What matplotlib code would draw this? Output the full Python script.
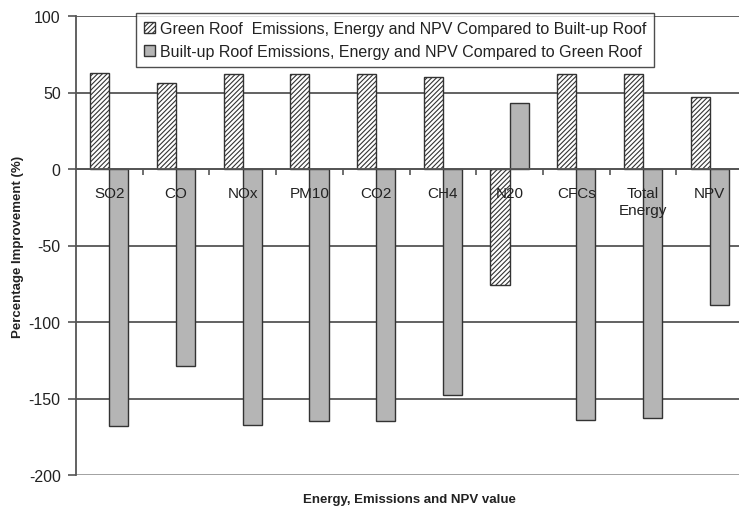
import matplotlib

matplotlib.use("Agg")

import matplotlib.pyplot as plt
import numpy as np

plt.rcParams["font.family"] = ["Liberation Sans", "DejaVu Sans"]
plt.rcParams["axes.unicode_minus"] = False
plt.rcParams["hatch.linewidth"] = 0.8
plt.rcParams["hatch.color"] = "#444444"

categories = ["SO2", "CO", "NOx", "PM10", "CO2", "CH4", "N20", "CFCs", "Total\nEnergy", "NPV"]
green_vs_builtup = [63, 56, 62, 62, 62, 60, -76, 62, 62, 47]
builtup_vs_green = [-168, -129, -167, -165, -165, -148, 43, -164, -163, -89]
y_ticks = [100, 50, 0, -50, -100, -150, -200]

green_label = "Green Roof  Emissions, Energy and NPV Compared to Built-up Roof"
builtup_label = "Built-up Roof Emissions, Energy and NPV Compared to Green Roof"

EDGE = "#333333"
GRID = "#555555"
TEXT = "#222222"

fig = plt.figure(figsize=(7.39, 5.10), dpi=100)
ax = fig.add_axes([76 / 739, 34 / 510, 667 / 739, 459 / 510])

x = np.arange(len(categories))
width = 0.286

ax.bar(x - width / 2, green_vs_builtup, width, color="white", edgecolor=EDGE,
       hatch="///////", linewidth=1.0, label=green_label, zorder=2)
ax.bar(x + width / 2, builtup_vs_green, width, color="#b5b5b5", edgecolor=EDGE,
       linewidth=1.0, label=builtup_label, zorder=2)

ax.set_xlim(-0.5, len(categories) - 0.5)
ax.set_ylim(-200, 100)
ax.set_yticks(y_ticks)
ax.yaxis.grid(True, color=GRID, linewidth=1.3)
ax.set_axisbelow(True)
# category names are written over the bars, the grid stays behind them
ax.xaxis.set_zorder(3)
for line, val in zip(ax.get_ygridlines(), y_ticks):
    if val == -200:
        line.set_color("#9a9a9a")

ax.spines["bottom"].set_position(("data", 0))
ax.spines["bottom"].set_color(GRID)
ax.spines["bottom"].set_linewidth(1.3)
ax.spines["left"].set_color(GRID)
ax.spines["left"].set_linewidth(1.3)
ax.spines["top"].set_visible(False)
ax.spines["right"].set_visible(False)

ax.set_xticks(x)
ax.set_xticklabels(categories, fontsize=11, color=TEXT, linespacing=1.3, va="top")
ax.tick_params(axis="x", which="major", length=0, pad=12)
ax.set_xticks(x[:-1] + 0.5, minor=True)
ax.tick_params(axis="x", which="minor", length=4, width=1.2, color=GRID, direction="out")
ax.tick_params(axis="y", length=6, width=1.2, color=GRID, labelsize=11.5,
               labelcolor=TEXT, pad=5)

ax.set_ylabel("Percentage Improvement (%)", fontsize=9.5, fontweight="bold", color=TEXT)
ax.yaxis.set_label_coords(-52 / 667, 0.5)
fig.text(409 / 739, 1 - 500 / 510, "Energy, Emissions and NPV value", fontsize=9.5,
         fontweight="bold", color=TEXT, ha="center", va="center")

leg = fig.legend(loc="upper center", bbox_to_anchor=(395 / 739, 1 - 14 / 510),
                 fontsize=11.5, frameon=True, fancybox=False, edgecolor="#222222",
                 handlelength=0.7, handleheight=0.7, handletextpad=0.3,
                 borderpad=0.5, labelspacing=0.5, borderaxespad=0)
leg.get_frame().set_linewidth(1.0)
for t in leg.get_texts():
    t.set_color(TEXT)

fig.savefig("out.png", dpi=100, facecolor="white")
